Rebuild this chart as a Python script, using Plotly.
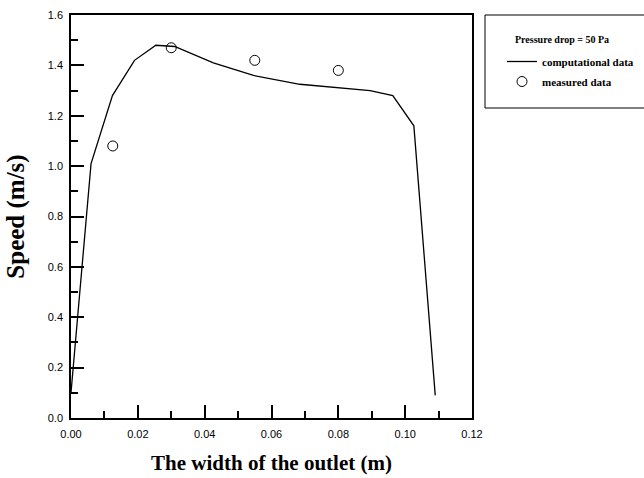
import plotly.graph_objects as go

# Computational data (line)
comp_x = [0.0, 0.006, 0.0124, 0.019, 0.0254, 0.031, 0.0426, 0.0546, 0.0685, 0.0895, 0.0963, 0.1026, 0.109]
comp_y = [0.10, 1.01, 1.28, 1.42, 1.48, 1.475, 1.41, 1.36, 1.325, 1.30, 1.28, 1.16, 0.09]

# Measured data (open circles)
meas_x = [0.0125, 0.030, 0.055, 0.080]
meas_y = [1.08, 1.47, 1.42, 1.38]

legend_title = "Pressure drop = 50 Pa"
x_title = "The width of the outlet (m)"
y_title = "Speed (m/s)"

fig = go.Figure()
fig.add_trace(go.Scatter(x=comp_x, y=comp_y, mode="lines", name="computational data",
                         legendgroup="a",
                         line=dict(color="black", width=1.3)))
fig.add_trace(go.Scatter(x=meas_x, y=meas_y, mode="markers", name="measured data",
                         legendgroup="b",
                         marker=dict(symbol="circle-open", size=10, color="black",
                                     line=dict(width=1, color="black"))))

W, H = 644, 478
L, R, T, B = 71, 172, 15, 60
pw = W - L - R
ph = H - T - B

def px2paper_x(px):
    return (px - L) / pw

def px2paper_y(py):
    return 1 - (py - T) / ph

fig.update_layout(
    width=W, height=H,
    margin=dict(l=L, r=R, t=T, b=B, autoexpand=False),
    paper_bgcolor="white", plot_bgcolor="white",
    showlegend=True,
    legend=dict(
        x=px2paper_x(502), y=px2paper_y(47), xanchor="left", yanchor="top",
        font=dict(family="Liberation Serif", size=11, color="black", weight="bold"),
        borderwidth=0, bgcolor="rgba(0,0,0,0)", itemwidth=30,
        traceorder="grouped", tracegroupgap=1,
    ),
    annotations=[dict(text="<b>" + legend_title + "</b>", xref="paper", yref="paper",
                      x=px2paper_x(562), y=px2paper_y(39), xanchor="center", yanchor="middle",
                      showarrow=False,
                      font=dict(family="Liberation Serif", size=10, color="black"))],
    xaxis=dict(
        range=[0, 0.12], dtick=0.02, tickformat=".2f",
        ticks="inside", ticklen=13, tickwidth=1.5, tickcolor="black",
        minor=dict(dtick=0.01, ticks="inside", ticklen=7, tickwidth=1.5, tickcolor="black"),
        showline=True, linecolor="black", linewidth=1.5, mirror=True,
        showgrid=False, zeroline=False, ticklabelstandoff=5,
        tickfont=dict(family="Liberation Sans", size=11, color="black"),
        title=dict(text="<b>" + x_title + "</b>", standoff=16,
                   font=dict(family="Liberation Serif", size=21, color="black")),
    ),
    yaxis=dict(
        range=[0, 1.6], dtick=0.2, tickformat=".1f",
        ticks="inside", ticklen=13, tickwidth=1.5, tickcolor="black",
        minor=dict(dtick=0.1, ticks="inside", ticklen=7, tickwidth=1.5, tickcolor="black"),
        showline=True, linecolor="black", linewidth=1.5, mirror=True,
        showgrid=False, zeroline=False, ticklabelstandoff=4,
        tickfont=dict(family="Liberation Sans", size=11, color="black"),
        title=dict(text="<b>" + y_title + "</b>", standoff=16,
                   font=dict(family="Liberation Serif", size=25, color="black")),
    ),
    shapes=[dict(type="rect", xref="paper", yref="paper",
                 x0=px2paper_x(485), x1=px2paper_x(660),
                 y0=px2paper_y(108), y1=px2paper_y(15),
                 line=dict(color="black", width=1))],
)

fig.write_html("out.html", post_script="document.body.style.margin='0';",
               config={"displayModeBar": False})
